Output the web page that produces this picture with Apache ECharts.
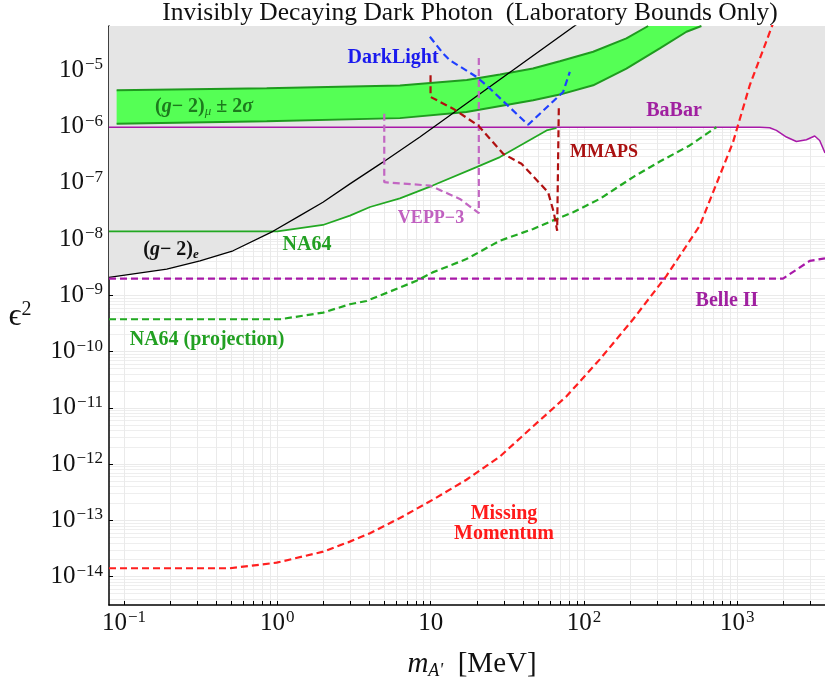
<!DOCTYPE html>
<html><head><meta charset="utf-8">
<script src="https://cdn.jsdelivr.net/npm/echarts@6/dist/echarts.min.js"></script>
<style>html,body{margin:0;padding:0;background:#fff}#c{width:825px;height:684px}</style>
</head><body><div id="c"></div>
<script>
// ---- axis extents and tick values ----
const xMin = 0.0798, xMax = 3730;
const yMin = 3.13e-15, yMax = 6.17e-5;
const xMajorTicks = [0.1, 1, 10, 100, 1000];
const xMinorTicks = [0.2,0.3,0.4,0.5,0.6,0.7,0.8,0.9, 2,3,4,5,6,7,8,9, 20,30,40,50,60,70,80,90, 200,300,400,500,600,700,800,900, 2000,3000];
const yMajorTicks = [1e-14,1e-13,1e-12,1e-11,1e-10,1e-9,1e-8,1e-7,1e-6,1e-5];
const minorMultipliers = [2,3,4,5,6,7,8,9];

// ---- curves [mass MeV, eps^2] ----
const excludedBoundary = [[0.0798,2.09e-9],[0.19,2.94e-9],[0.313,4.12e-9],[0.514,6.22e-9],[0.936,1.38e-8],[1.0,1.38e-8],[1.983,1.79e-8],[2.974,2.62e-8],[4.02,3.74e-8],[6.3,5.31e-8],[10.3,8.97e-8],[19.9,1.91e-7],[28.3,2.88e-7],[57,8.59e-7],[66.2,9.5e-7],[72,9.8e-7],[1400,9.8e-7],[1626,9.6e-7],[1798,8.6e-7],[2090,6.55e-7],[2428,5.46e-7],[2821,5.86e-7],[3196,6.82e-7],[3444,5.69e-7],[3730,3.4e-7]];
const gm2muUpper = [[0.0895,4.44e-6],[0.852,4.82e-6],[6.3,5.38e-6],[17.2,6.74e-6],[28.3,8.45e-6],[46.4,1.08e-5],[69.5,1.46e-5],[114.7,2.15e-5],[189,3.71e-5],[262,6.17e-5]];
const gm2muLower = [[0.0895,1.13e-6],[0.852,1.25e-6],[6.3,1.42e-6],[17.1,1.83e-6],[46.6,2.95e-6],[69.5,3.72e-6],[114.7,5.45e-6],[189,1.08e-5],[312,2.46e-5],[466,4.88e-5],[583,6.17e-5]];
const gm2e = [[0.0798,2.09e-9],[0.19,2.94e-9],[0.313,4.12e-9],[0.514,6.22e-9],[0.936,1.38e-8],[1.404,2.62e-8],[1.983,4.54e-8],[2.974,9.62e-8],[4.88,2.34e-7],[8.5,6.55e-7],[95,7.4e-5]];
const na64 = [[0.0798,1.38e-8],[1.0,1.38e-8],[1.983,1.79e-8],[2.974,2.62e-8],[4.02,3.74e-8],[6.3,5.31e-8],[10.3,8.97e-8],[19.9,1.91e-7],[28.3,2.88e-7],[57,8.59e-7],[66.2,9.47e-7]];
const babar = [[0.0798,9.8e-7],[1400,9.8e-7],[1626,9.6e-7],[1798,8.6e-7],[2090,6.55e-7],[2428,5.46e-7],[2821,5.86e-7],[3196,6.82e-7],[3444,5.69e-7],[3730,3.4e-7]];
const belle2 = [[0.0798,1.99e-9],[1986,1.99e-9],[2965,4.12e-9],[3730,4.55e-9]];
const missingMomentum = [[0.0798,1.41e-14],[0.491,1.41e-14],[0.989,1.77e-14],[1.99,2.78e-14],[2.97,4.19e-14],[4.02,5.92e-14],[6.3,1.1e-13],[10.3,2.32e-13],[17.1,5.28e-13],[28.3,1.37e-12],[46.6,4.71e-12],[76.9,1.61e-11],[126.8,7.29e-11],[209,3.77e-10],[345,2.23e-9],[569,1.74e-8],[938,5.33e-7],[1205,5.45e-6],[1710,6.86e-5]];
const na64Projection = [[0.0798,3.77e-10],[1.04,3.77e-10],[1.99,4.95e-10],[2.97,6.97e-10],[3.82,7.97e-10],[8.09,1.82e-9],[10.3,2.57e-9],[17.1,4.43e-9],[28.3,9.38e-9],[46.6,1.52e-8],[66.2,2.29e-8],[84.9,3.01e-8],[126.8,5.21e-8],[209,1.27e-7],[312,2.4e-7],[489,4.64e-7],[731,9.86e-7]];
const darkLight = [[9.88,3.97e-5],[12.06,2.0e-5],[13.34,1.52e-5],[19.9,7.69e-6],[23.1,5.45e-6],[43.2,1.08e-6],[73.1,4.15e-6],[80.8,9.44e-6]];
const vepp3 = [[4.98,1.7e-6],[4.98,1.03e-7],[9.88,8.97e-8],[15.5,5.2e-8],[20.6,2.9e-8],[20.6,1.68e-5]];
const mmaps = [[9.98,8.2e-6],[9.98,3.38e-6],[14.0,2.09e-6],[20.4,1.05e-6],[29.7,3.3e-7],[39.1,2.19e-7],[58.3,6.84e-8],[63.5,3.01e-8],[66.8,1.41e-8],[68.5,1.5e-8],[68.5,2.25e-6]];

const yMinorTicks = [];
[1e-15].concat(yMajorTicks).forEach(d => minorMultipliers.forEach(m => yMinorTicks.push(+(d*m).toPrecision(3))));

const SERIF = "'Liberation Serif','Times New Roman','DejaVu Serif',serif";

function powLabel(v) {
  const e = Math.round(Math.log10(v));
  if (e === 1) return '{b|10}';
  return '{b|10}{s|' + (e < 0 ? '\u2212' + (-e) : e) + '}';
}
const tickRich = {
  b: {fontFamily: SERIF, fontSize: 25, color: '#111', lineHeight: 28},
  s: {fontFamily: SERIF, fontSize: 17, color: '#111', verticalAlign: 'top', lineHeight: 17, padding: [0, 0, 0, 1]}
};

const chart = echarts.init(document.getElementById('c'), null, {renderer: 'canvas'});

function polygonSeries(name, pointsFn, style, z) {
  return {
    type: 'custom', name, z, silent: true,
    xAxisIndex: 0, yAxisIndex: 0,
    data: [[1, 1e-10]],
    renderItem: (params, api) => ({
      type: 'polygon',
      shape: {points: pointsFn().map(p => api.coord(p))},
      style: style
    })
  };
}
function lineSeries(name, data, color, width, dashed, z) {
  return {
    type: 'line', name, data, z: z || 5, showSymbol: false, symbol: 'none', silent: true,
    clip: true, animation: false,
    lineStyle: {color, width, type: dashed ? [7, 4] : 'solid'}
  };
}

const option = {
  animation: false,
  backgroundColor: '#fff',
  grid: {left: 109, right: 0, top: 26, bottom: 79, containLabel: false, outerBoundsMode: 'none'},
  xAxis: [{
    type: 'log', min: xMin, max: xMax, position: 'bottom',
    axisLine: {show: true, lineStyle: {color: '#000', width: 1.5}},
    axisTick: {show: true, inside: true, length: 4, lineStyle: {color: '#000', width: 1}, customValues: xMajorTicks.concat(xMinorTicks)},
    axisLabel: {show: true, margin: 4, customValues: xMajorTicks, formatter: powLabel, rich: tickRich},
    splitLine: {show: true, lineStyle: {color: '#eaeaea', width: 1}},
    minorTick: {show: false}, minorSplitLine: {show: false}
  }, {
    type: 'log', min: xMin, max: xMax, position: 'top',
    axisLine: {show: true, lineStyle: {color: '#000', width: 1}},
    axisTick: {show: false}, axisLabel: {show: false}, splitLine: {show: false}
  }],
  yAxis: [{
    type: 'log', min: yMin, max: yMax, position: 'left',
    axisLine: {show: true, lineStyle: {color: '#000', width: 1.5}},
    axisTick: {show: true, inside: true, length: 4, lineStyle: {color: '#000', width: 1}, customValues: yMajorTicks},
    axisLabel: {show: true, margin: 6, customValues: yMajorTicks, formatter: powLabel, rich: tickRich},
    splitLine: {show: true, lineStyle: {color: '#eaeaea', width: 1}}
  }, {
    type: 'log', min: yMin, max: yMax, position: 'left',
    axisLine: {show: false},
    axisTick: {show: false, customValues: yMinorTicks},
    axisLabel: {show: false},
    splitLine: {show: true, lineStyle: {color: '#eeeeee', width: 1}}
  }],
  series: [
    polygonSeries('excluded', () => excludedBoundary.concat([[xMax, yMax], [xMin, yMax]]), {fill: '#e5e5e5'}, 1),
    polygonSeries('gm2mu', () => gm2muUpper.concat(gm2muLower.slice().reverse()), {fill: '#55ff55'}, 2),
    lineSeries('gm2muUpper', gm2muUpper, '#1f9a1f', 2, false, 3),
    lineSeries('gm2muLower', gm2muLower, '#1f9a1f', 2, false, 3),
    lineSeries('BaBar', babar, '#a818a8', 1.5, false, 4),
    lineSeries('NA64', na64, '#22a822', 1.7, false, 4),
    lineSeries('(g-2)e', gm2e, '#000', 1.3, false, 5),
    lineSeries('Belle II', belle2, '#a818a8', 2.2, true, 5),
    lineSeries('NA64 projection', na64Projection, '#22aa22', 2.2, true, 5),
    lineSeries('Missing Momentum', missingMomentum, '#ff1f1f', 2.2, true, 5),
    lineSeries('VEPP-3', vepp3, '#c266c2', 2.2, true, 5),
    lineSeries('MMAPS', mmaps, '#b01010', 2.2, true, 5),
    lineSeries('DarkLight', darkLight, '#1f3fff', 2.2, true, 6)
  ],
  graphic: [
    {type: 'text', x: 470, y: 13, z: 100, style: {text: 'Invisibly Decaying Dark Photon  (Laboratory Bounds Only)', font: '25.5px ' + SERIF, fill: '#111', align: 'center', verticalAlign: 'middle'}},
    {type: 'text', x: 472, y: 664, z: 100, style: {
      text: '{m|m}{sub|A\'}{t|  [MeV]}', align: 'center', verticalAlign: 'middle',
      rich: {
        m: {fontFamily: SERIF, fontStyle: 'italic', fontSize: 29, fill: '#111', lineHeight: 32},
        sub: {fontFamily: SERIF, fontStyle: 'italic', fontSize: 18, fill: '#111', verticalAlign: 'bottom', lineHeight: 16},
        t: {fontFamily: SERIF, fontSize: 29, fill: '#111', lineHeight: 32}
      }}},
    {type: 'text', x: 20, y: 317, z: 100, style: {
      text: '{e|\u03F5}{s|2}', align: 'center', verticalAlign: 'middle',
      rich: {
        e: {fontFamily: SERIF, fontSize: 32, fill: '#111', lineHeight: 34},
        s: {fontFamily: SERIF, fontSize: 20, fill: '#111', verticalAlign: 'top', lineHeight: 20}
      }}},
    {type: 'text', x: 204, y: 107, z: 100, style: {
      text: '{p|(}{i|g}{p|\u2212 2)}{sub|\u03BC}{p| \u00B1 2}{i|\u03C3}', align: 'center', verticalAlign: 'middle',
      rich: {
        p: {fontFamily: SERIF, fontWeight: 'bold', fontSize: 20, fill: '#1d7a1d', lineHeight: 22},
        i: {fontFamily: SERIF, fontWeight: 'bold', fontStyle: 'italic', fontSize: 20, fill: '#1d7a1d', lineHeight: 22},
        sub: {fontFamily: SERIF, fontStyle: 'italic', fontSize: 13, fill: '#1d7a1d', verticalAlign: 'bottom', lineHeight: 14}
      }}},
    {type: 'text', x: 171, y: 250, z: 100, style: {
      text: '{p|(}{i|g}{p|\u2212 2)}{sub|e}', align: 'center', verticalAlign: 'middle',
      rich: {
        p: {fontFamily: SERIF, fontWeight: 'bold', fontSize: 20, fill: '#111', lineHeight: 22},
        i: {fontFamily: SERIF, fontWeight: 'bold', fontStyle: 'italic', fontSize: 20, fill: '#111', lineHeight: 22},
        sub: {fontFamily: SERIF, fontWeight: 'bold', fontStyle: 'italic', fontSize: 13, fill: '#111', verticalAlign: 'bottom', lineHeight: 14}
      }}},
    {type: 'text', x: 393, y: 58, z: 100, style: {text: 'DarkLight', font: 'bold 20px ' + SERIF, fill: '#1a1aee', align: 'center', verticalAlign: 'middle'}},
    {type: 'text', x: 307, y: 245, z: 100, style: {text: 'NA64', font: 'bold 20px ' + SERIF, fill: '#22a022', align: 'center', verticalAlign: 'middle'}},
    {type: 'text', x: 431, y: 218, z: 100, style: {text: 'VEPP\u22123', font: 'bold 18px ' + SERIF, fill: '#c060c0', align: 'center', verticalAlign: 'middle'}},
    {type: 'text', x: 604, y: 152, z: 100, style: {text: 'MMAPS', font: 'bold 18px ' + SERIF, fill: '#aa1111', align: 'center', verticalAlign: 'middle'}},
    {type: 'text', x: 674, y: 111, z: 100, style: {text: 'BaBar', font: 'bold 20px ' + SERIF, fill: '#a020a0', align: 'center', verticalAlign: 'middle'}},
    {type: 'text', x: 727, y: 301, z: 100, style: {text: 'Belle II', font: 'bold 20px ' + SERIF, fill: '#a020a0', align: 'center', verticalAlign: 'middle'}},
    {type: 'text', x: 207, y: 340, z: 100, style: {text: 'NA64 (projection)', font: 'bold 20px ' + SERIF, fill: '#22a022', align: 'center', verticalAlign: 'middle'}},
    {type: 'text', x: 504, y: 514, z: 100, style: {text: 'Missing', font: 'bold 20px ' + SERIF, fill: '#ff1a1a', align: 'center', verticalAlign: 'middle'}},
    {type: 'text', x: 504, y: 534, z: 100, style: {text: 'Momentum', font: 'bold 20px ' + SERIF, fill: '#ff1a1a', align: 'center', verticalAlign: 'middle'}}
  ]
};
chart.setOption(option);
</script>
</body></html>
